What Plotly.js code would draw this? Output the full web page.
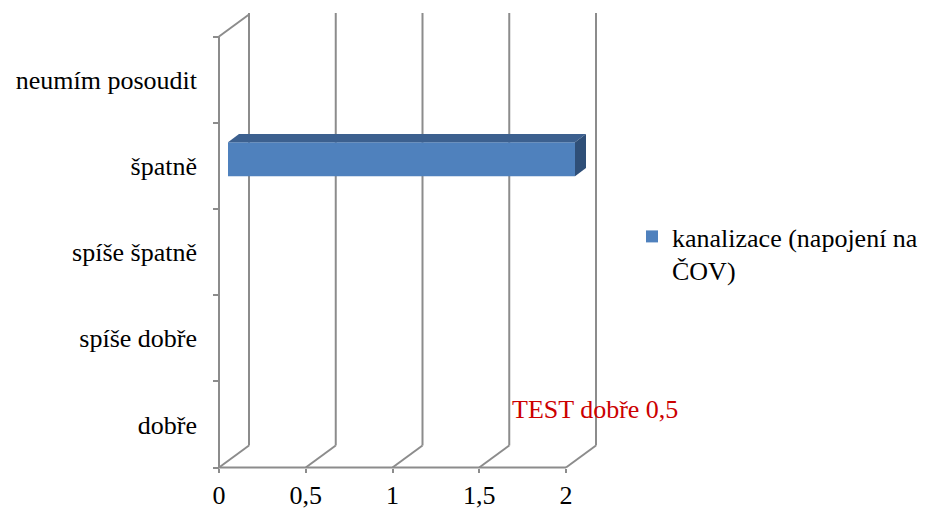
<!DOCTYPE html>
<html>
<head>
<meta charset="utf-8">
<script src="https://cdn.plot.ly/plotly-3.0.1.min.js"></script>
</head>
<body style="margin:0;padding:0;background:#ffffff">
<div id="chart" style="width:926px;height:510px"></div>
<script>
// ---- data ----
const categories = ['dobře', 'spíše dobře', 'spíše špatně', 'špatně', 'neumím posoudit'];
const values = [0, 0, 0, 2, 0];
const xTicks = [0, 0.5, 1, 1.5, 2];
const seriesName = 'kanalizace (napojení na<br>ČOV)';

// ---- geometry / style (pixels) ----
const W = 926, H = 510;
const PX_X = 173.5, PX_Y = 86.2;
const FRONT_LEFT = 219, FRONT_BOTTOM = 467.5;
const PLOT_LEFT = 212, PLOT_RIGHT = 602, PLOT_TOP = 11, PLOT_BOTTOM = 472;
const WALL_DX = 30, WALL_DY = 22;
const BAR_FRONT_DX = 9, BAR_FRONT_DY = 6.6;
const BAR_DEPTH_DX = 11, BAR_DEPTH_DY = 8.3;
const BAR_THICK = 34;
const GRID = '#8c8c8c';
const SERIF = 'Liberation Serif';

const plotW = PLOT_RIGHT - PLOT_LEFT, plotH = PLOT_BOTTOM - PLOT_TOP;
const xr = [(PLOT_LEFT - FRONT_LEFT) / PX_X, (PLOT_RIGHT - FRONT_LEFT) / PX_X];
const yr = [-0.5 - (PLOT_BOTTOM - FRONT_BOTTOM) / PX_Y, -0.5 + (FRONT_BOTTOM - PLOT_TOP) / PX_Y];
const dxW = WALL_DX / PX_X, dyW = WALL_DY / PX_Y;
const dxF = BAR_FRONT_DX / PX_X, dyF = BAR_FRONT_DY / PX_Y;
const dxD = BAR_DEPTH_DX / PX_X, dyD = BAR_DEPTH_DY / PX_Y;
const bw = BAR_THICK / PX_Y;
const yBottom = -0.5, yTop = categories.length - 0.5;
const xMax = xTicks[xTicks.length - 1];

const shapes = [];
function addLine(x0, y0, x1, y1) {
  shapes.push({type: 'line', xref: 'x', yref: 'y', x0: x0, y0: y0, x1: x1, y1: y1, layer: 'below',
    line: {color: GRID, width: 2}});
}
xTicks.forEach(function (t) {
  addLine(t + dxW, yBottom + dyW, t + dxW, yTop + dyW + 1.5 / PX_Y);
  addLine(t, yBottom, t + dxW, yBottom + dyW);
});
addLine(0, yTop, dxW, yTop + dyW);
addLine(0, yBottom, 0, yTop);
addLine(0, yBottom, xMax, yBottom);

values.forEach(function (v, i) {
  if (!v) return;
  const x0 = dxF, x1 = dxF + v;
  const yt = i + dyF + bw / 2, yb = i + dyF - bw / 2;
  shapes.push({type: 'path', xref: 'x', yref: 'y', layer: 'above',
    path: 'M' + x0 + ',' + yt + ' L' + x1 + ',' + yt + ' L' + (x1 + dxD) + ',' + (yt + dyD) +
          ' L' + (x0 + dxD) + ',' + (yt + dyD) + ' Z',
    fillcolor: '#3c608f', line: {width: 0}});
  shapes.push({type: 'path', xref: 'x', yref: 'y', layer: 'above',
    path: 'M' + x1 + ',' + yt + ' L' + (x1 + dxD) + ',' + (yt + dyD) + ' L' + (x1 + dxD) + ',' + (yb + dyD) +
          ' L' + x1 + ',' + yb + ' Z',
    fillcolor: '#2f4f78', line: {width: 0}});
});

const trace = {
  type: 'bar', orientation: 'h',
  y: categories, x: values,
  base: dxF, offset: -bw / 2 + dyF, width: bw,
  name: seriesName,
  marker: {color: '#4f81bd', line: {width: 0}},
  hoverinfo: 'none', showlegend: true
};

const layout = {
  width: W, height: H,
  margin: {l: PLOT_LEFT, r: W - PLOT_RIGHT, t: PLOT_TOP, b: H - PLOT_BOTTOM, pad: 0, autoexpand: false},
  paper_bgcolor: '#ffffff', plot_bgcolor: 'rgba(0,0,0,0)',
  separators: ', ',
  font: {family: SERIF, size: 26, color: '#000000'},
  showlegend: true,
  xaxis: {
    range: xr, anchor: 'free', position: (PLOT_BOTTOM - FRONT_BOTTOM) / plotH,
    tickmode: 'array', tickvals: xTicks,
    ticks: 'outside', ticklen: 4, tickwidth: 2, tickcolor: GRID,
    showgrid: false, zeroline: false, showline: false,
    ticklabelstandoff: 0, automargin: false,
    tickfont: {family: SERIF, size: 26, color: '#000000'}
  },
  yaxis: {
    type: 'category', categoryorder: 'array', categoryarray: categories,
    range: yr, anchor: 'free', position: (FRONT_LEFT - PLOT_LEFT) / plotW,
    tickson: 'boundaries', ticks: 'outside', ticklen: 6, tickwidth: 2, tickcolor: GRID,
    showgrid: false, zeroline: false, showline: false,
    ticklabelstandoff: 22, automargin: false,
    tickfont: {family: SERIF, size: 26, color: '#000000'}
  },
  legend: {
    x: (632 - PLOT_LEFT) / plotW, xanchor: 'left',
    y: 1 - (213 - PLOT_TOP) / plotH, yanchor: 'top',
    valign: 'top', bgcolor: 'rgba(0,0,0,0)', borderwidth: 0,
    font: {family: SERIF, size: 26, color: '#000000'}
  },
  annotations: [{xref: 'paper', yref: 'paper', x: 1.2, y: 0.1, showarrow: false,
    text: 'TEST dobře 0,5', font: {family: SERIF, size: 26, color: '#cc0000'}}],
  shapes: shapes
};

Plotly.newPlot('chart', [trace], layout, {displayModeBar: false});
</script>
</body>
</html>
